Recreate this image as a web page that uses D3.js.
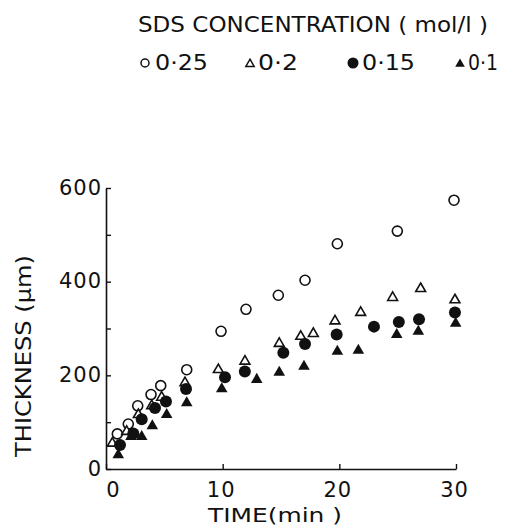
<!DOCTYPE html>
<html>
<head>
<meta charset="utf-8">
<script src="https://cdn.jsdelivr.net/npm/d3@7"></script>
<style>
  body { margin: 0; background: #fff; }
  text { font-family: "DejaVu Sans", sans-serif; fill: #111; }
</style>
</head>
<body>
<div id="chart"></div>
<script>
// SDS concentration series (time in min, thickness in µm)
const c025 = [[0.97,75],[1.91,96],[2.72,135],[3.86,159],[4.69,178],[6.92,212],[9.86,294],[12.0,341],[14.77,371],[17.06,403],[19.83,481],[24.97,508],[29.83,574]];
const c02 = [[0.54,55],[1.77,80],[2.77,116],[3.92,135],[4.77,153],[6.77,184],[9.63,212],[11.91,230],[14.85,268],[16.69,283],[17.77,289],[19.63,316],[21.83,334],[24.57,366],[26.97,385],[29.91,361]];
const c015 = [[1.2,51],[2.34,76],[3.06,106],[4.2,130],[5.14,144],[6.86,171],[10.2,196],[11.9,208],[15.2,248],[17.06,267],[19.77,287],[22.97,304],[25.1,314],[26.83,320],[29.91,334]];
const c01 = [[1.05,30],[2.14,69],[3.06,69],[3.97,92],[5.2,116],[6.92,141],[9.92,171],[12.92,191],[14.85,206],[16.97,219],[19.83,251],[21.63,253],[24.92,287],[26.77,294],[29.97,311]];
const legendLabels = ["0·25", "0·2", "0·15", "0·1"];
const xTicks = [0, 10, 20, 30];
const yTicks = [0, 100, 200, 300, 400, 500, 600];

(function () {
    let width = 505, height = 529;
    let svg = d3.select("#chart")
        .append("svg")
        .attr("width", width)
        .attr("height", height);

    let x = d3.scaleLinear().domain([0, 30]).range([106, 456]);
    let y = d3.scaleLinear().domain([0, 600]).range([469, 188]);

    let tri = d3.symbol().type(d3.symbolTriangle);

    // axes, ticks point inward
    let yAxis = svg.append("g")
        .attr("transform", `translate(${x(0)},0)`)
        .call(d3.axisLeft(y)
            .tickValues(yTicks)
            .tickSizeInner(-5)
            .tickSizeOuter(0)
            .tickPadding(4)
            .tickFormat(d => d % 200 === 0 ? d : ""));
    let xAxis = svg.append("g")
        .attr("transform", `translate(0,${y(0)})`)
        .call(d3.axisBottom(x)
            .tickValues(xTicks)
            .tickSizeInner(-5)
            .tickSizeOuter(0)
            .tickPadding(13));
    [xAxis, yAxis].forEach(g => {
        g.select(".domain").attr("stroke", "#111").attr("stroke-width", 1.6);
        g.selectAll(".tick line").attr("stroke", "#111").attr("stroke-width", 1.4);
        g.selectAll(".tick text")
            .attr("font-size", 21)
            .attr("letter-spacing", 1)
            .attr("fill", "#111");
    });
    yAxis.selectAll(".tick text").attr("dy", "0.3em");
    xAxis.selectAll(".tick text").attr("dx", d => d === 0 ? 7 : -2);

    // data points
    svg.append("g").selectAll("circle")
        .data(c025).enter().append("circle")
        .attr("cx", d => x(d[0])).attr("cy", d => y(d[1]))
        .attr("r", 5).attr("fill", "#fff")
        .attr("stroke", "#111").attr("stroke-width", 1.6);
    svg.append("g").selectAll("path")
        .data(c02).enter().append("path")
        .attr("d", tri.size(42))
        .attr("transform", d => `translate(${x(d[0])},${y(d[1])})`)
        .attr("fill", "#fff").attr("stroke", "#111").attr("stroke-width", 1.6);
    svg.append("g").selectAll("circle")
        .data(c015).enter().append("circle")
        .attr("cx", d => x(d[0])).attr("cy", d => y(d[1]))
        .attr("r", 6).attr("fill", "#111");
    svg.append("g").selectAll("path")
        .data(c01).enter().append("path")
        .attr("d", tri.size(58))
        .attr("transform", d => `translate(${x(d[0])},${y(d[1])})`)
        .attr("fill", "#111");

    // legend
    svg.append("text")
        .attr("x", 138).attr("y", 32)
        .attr("font-size", 21)
        .attr("textLength", 350).attr("lengthAdjust", "spacingAndGlyphs")
        .text("SDS CONCENTRATION ( mol/l )");
    let lx = [145, 250, 353, 460];
    let lt = [155, 258, 362, 468];
    let lw = [53, 40, 53, 30];
    let lg = svg.append("g");
    lg.append("circle").attr("cx", lx[0]).attr("cy", 63).attr("r", 4)
        .attr("fill", "#fff").attr("stroke", "#111").attr("stroke-width", 1.5);
    lg.append("path").attr("d", tri.size(30)).attr("transform", `translate(${lx[1]},64)`)
        .attr("fill", "#fff").attr("stroke", "#111").attr("stroke-width", 1.5);
    lg.append("circle").attr("cx", lx[2]).attr("cy", 63).attr("r", 5.5).attr("fill", "#111");
    lg.append("path").attr("d", tri.size(40)).attr("transform", `translate(${lx[3]},64)`)
        .attr("fill", "#111");
    lg.selectAll("text")
        .data(legendLabels).enter().append("text")
        .attr("x", (_, i) => lt[i]).attr("y", 70)
        .attr("font-size", 21)
        .attr("textLength", (_, i) => lw[i]).attr("lengthAdjust", "spacingAndGlyphs")
        .text(d => d);

    // axis titles
    svg.append("text")
        .attr("x", 208).attr("y", 522)
        .attr("font-size", 20)
        .attr("textLength", 134).attr("lengthAdjust", "spacingAndGlyphs")
        .text("TIME(min )");
    svg.append("text")
        .attr("transform", "translate(31,457) rotate(-90)")
        .attr("font-size", 21)
        .attr("textLength", 202).attr("lengthAdjust", "spacingAndGlyphs")
        .text("THICKNESS (µm)");
})()
</script>
</body>
</html>
